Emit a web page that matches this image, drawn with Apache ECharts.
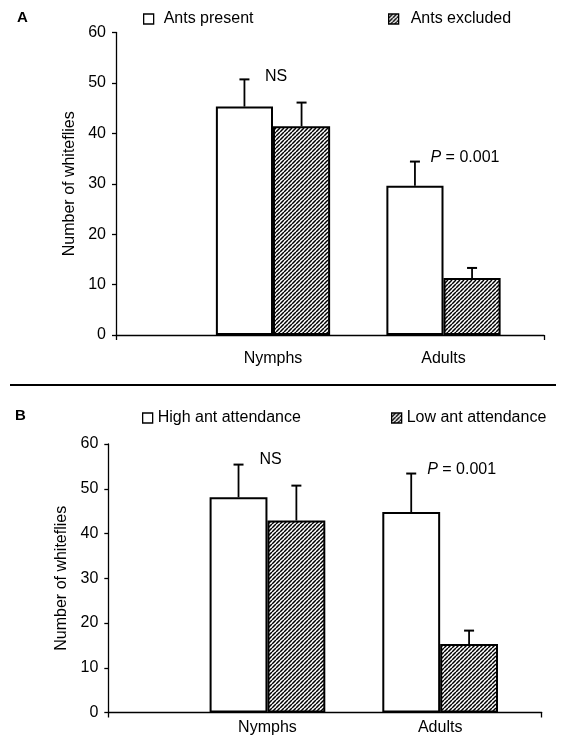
<!DOCTYPE html>
<html>
<head>
<meta charset="utf-8">
<script src="https://cdn.jsdelivr.net/npm/echarts@6/dist/echarts.min.js"></script>
<style>
  html, body { margin: 0; padding: 0; background: #fff; }
  #chart { width: 562px; height: 737px; }
</style>
</head>
<body>
<div id="chart"></div>
<script>
  var categories = ['Nymphs', 'Adults'];
  var yTicks = [0, 10, 20, 30, 40, 50, 60];

  // panel A
  var antsPresent = [45.3, 29.6];
  var antsPresentErr = [5.4, 4.8];
  var antsExcluded = [41.4, 11.3];
  var antsExcludedErr = [4.7, 2.0];
  var notesA = [['Nymphs', 51.3, 'NS'], ['Adults', 35.2, 'P = 0.001']];

  // panel B
  var highAnt = [48.1, 44.8];
  var highAntErr = [7.3, 8.6];
  var lowAnt = [42.9, 15.3];
  var lowAntErr = [7.8, 3.0];
  var notesB = [['Nymphs', 56.5, 'NS'], ['Adults', 54.2, 'P = 0.001']];

  var font = "'Liberation Sans', Arial, sans-serif";
  var gap = 0.33;

  function hatch(){
    var s = 4;
    var c = document.createElement('canvas');
    c.width = s; c.height = s;
    var ctx = c.getContext('2d');
    ctx.fillStyle = '#fff';
    ctx.fillRect(0, 0, s, s);
    ctx.strokeStyle = '#000';
    ctx.lineWidth = 1.5;
    ctx.beginPath();
    [-1, 0, 1].forEach(function(k){
      ctx.moveTo(k*s, s);
      ctx.lineTo(k*s + s, 0);
    });
    ctx.stroke();
    return {image: c, repeat: 'repeat'};
  }
  var hatchFill = hatch();

  function errData(vals, errs){
    return vals.map(function(v, i){ return [i, v, errs[i]]; });
  }

  function errorItem(side){
    return function(params, api){
      var ci = api.value(0), v = api.value(1), e = api.value(2);
      var base = api.coord([ci, v]);
      var top = api.coord([ci, v + e]);
      var band = api.size([1, 0])[0];
      var barW = band * (1 - gap) / 2;
      var x = base[0] + side * barW / 2;
      return {type: 'group', children: [
        {type: 'line', shape: {x1: x, y1: base[1], x2: x, y2: top[1]}, style: {stroke: '#000', lineWidth: 1.8}},
        {type: 'line', shape: {x1: x - 5, y1: top[1], x2: x + 5, y2: top[1]}, style: {stroke: '#000', lineWidth: 2}}
      ]};
    };
  }

  function noteItem(notes){
    return function(params, api){
      var p = api.coord([api.value(0), api.value(1)]);
      var txt = notes[params.dataIndex][2];
      var isP = txt.charAt(0) === 'P';
      return {type: 'text', x: p[0] + (isP ? -13 : -8), y: p[1], style: {
        text: isP ? '{i|P}' + txt.slice(1) : txt,
        fill: '#000', fontSize: 16, fontFamily: font,
        verticalAlign: 'middle', align: 'left',
        rich: {i: {fontStyle: 'italic', fontSize: 16, fontFamily: font}}
      }};
    };
  }

  function noteData(notes){
    return notes.map(function(n){ return [categories.indexOf(n[0]), n[1]]; });
  }

  var yMin = yTicks[0], yMax = yTicks[yTicks.length - 1], yStep = yTicks[1] - yTicks[0];

  function catAxis(g, margin){
    return {gridIndex: g, type: 'category', data: categories,
      axisLine: {show: false}, axisTick: {show: false},
      axisLabel: {color: '#000', fontSize: 16, fontFamily: font, margin: margin}};
  }
  // plain axis line spanning the full frame, ticks only at both ends
  function frameX(g){
    return {gridIndex: g, type: 'value', min: 0, max: 1, interval: 1,
      axisLine: {show: true, onZero: false, lineStyle: {color: '#000', width: 1.3}},
      axisTick: {show: true, length: 5, lineStyle: {color: '#000', width: 1.3}},
      axisLabel: {show: false}, splitLine: {show: false}};
  }
  function hiddenY(g){
    return {gridIndex: g, type: 'value', min: yMin, max: yMax, show: false, splitLine: {show: false}};
  }
  function valueY(g, offset, nameGap){
    return {gridIndex: g, type: 'value', min: yMin, max: yMax, interval: yStep, offset: offset,
      name: 'Number of whiteflies', nameLocation: 'middle', nameGap: nameGap,
      nameTextStyle: {color: '#000', fontSize: 16, fontFamily: font},
      axisLine: {show: true, onZero: false, lineStyle: {color: '#000', width: 1.3}},
      axisTick: {show: true, length: 4, lineStyle: {color: '#000', width: 1.3}},
      axisLabel: {color: '#000', fontSize: 16, fontFamily: font, margin: 10},
      splitLine: {show: false}};
  }

  function bar(name, data, g, hatched){
    return {name: name, type: 'bar', xAxisIndex: g, yAxisIndex: g, data: data,
      barGap: '0%', barCategoryGap: (gap * 100) + '%',
      itemStyle: {color: hatched ? hatchFill : '#fff', borderColor: '#000', borderWidth: 2}};
  }
  function errSeries(vals, errs, g, side){
    return {type: 'custom', xAxisIndex: g, yAxisIndex: g, z: 5,
      data: errData(vals, errs), renderItem: errorItem(side), encode: {x: 0, y: 1}};
  }
  function noteSeries(notes, g){
    return {type: 'custom', xAxisIndex: g, yAxisIndex: g, z: 6,
      data: noteData(notes), renderItem: noteItem(notes), encode: {x: 0, y: 1}};
  }
  function legendItem(name, left, top, textGap){
    return {data: [name], left: left, top: top, padding: 0, icon: 'rect', itemWidth: 10, itemHeight: 10,
      itemStyle: {borderColor: '#000', borderWidth: 1.3},
      textStyle: {color: '#000', fontSize: 16, fontFamily: font, padding: [0, 0, 0, textGap]},
      selectedMode: false};
  }
  function grid(left, top, width, height){
    return {left: left, top: top, width: width, height: height, outerBoundsMode: 'none', containLabel: false};
  }

  var myChart = echarts.init(document.getElementById('chart'));
  var option = {
    animation: false,
    backgroundColor: '#fff',
    grid: [
      grid(187.75, 32.5, 341, 302.5),
      grid(116, 32.5, 428, 302.5),
      grid(181.1, 444, 345.4, 268.5),
      grid(108.3, 444, 433.4, 268.5)
    ],
    xAxis: [catAxis(0, 16), frameX(1), catAxis(2, 7), frameX(3)],
    yAxis: [valueY(0, 187.75 - 116, 36), hiddenY(1), valueY(2, 181.1 - 108.3, 33), hiddenY(3)],
    legend: [
      legendItem('Ants present', 143, 11, 5),
      legendItem('Ants excluded', 388, 11, 7),
      legendItem('High ant attendance', 142, 410, 0),
      legendItem('Low ant attendance', 391, 410, 0)
    ],
    graphic: [
      {type: 'text', left: 17, top: 10, style: {text: 'A', fontSize: 15, fontWeight: 'bold', fontFamily: font, fill: '#000'}},
      {type: 'text', left: 15, top: 408, style: {text: 'B', fontSize: 15, fontWeight: 'bold', fontFamily: font, fill: '#000'}},
      {type: 'line', shape: {x1: 10, y1: 385, x2: 556, y2: 385}, style: {stroke: '#000', lineWidth: 2}}
    ],
    series: [
      bar('Ants present', antsPresent, 0, false),
      bar('Ants excluded', antsExcluded, 0, true),
      errSeries(antsPresent, antsPresentErr, 0, -1),
      errSeries(antsExcluded, antsExcludedErr, 0, 1),
      noteSeries(notesA, 0),
      bar('High ant attendance', highAnt, 2, false),
      bar('Low ant attendance', lowAnt, 2, true),
      errSeries(highAnt, highAntErr, 2, -1),
      errSeries(lowAnt, lowAntErr, 2, 1),
      noteSeries(notesB, 2)
    ]
  };
  myChart.setOption(option);
</script>
</body>
</html>
